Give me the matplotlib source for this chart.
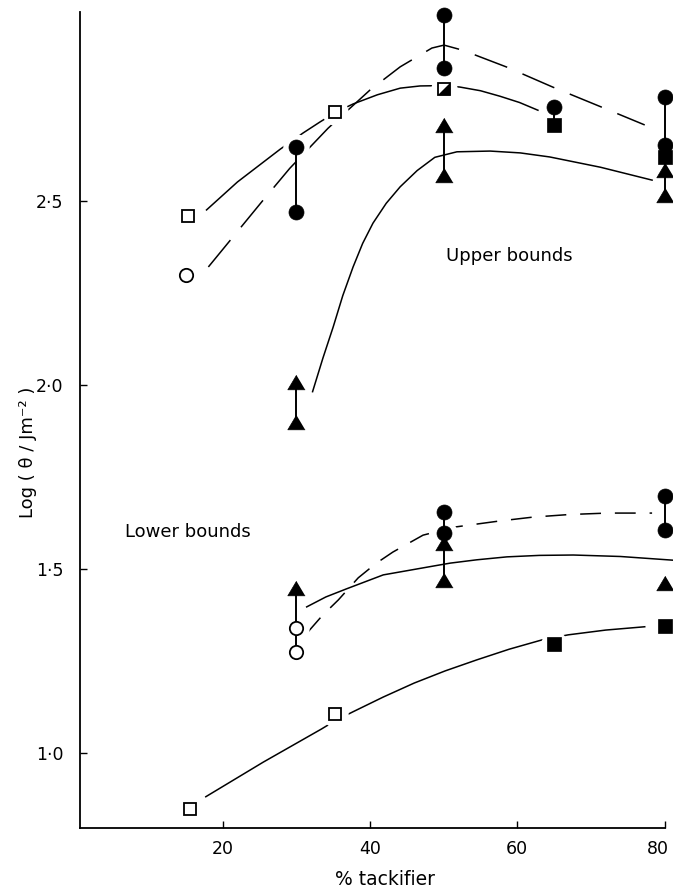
import numpy as np
import matplotlib
matplotlib.use("Agg")
import matplotlib.pyplot as plt
from matplotlib.transforms import ScaledTranslation

plt.rcParams['font.family'] = ['DejaVu Sans']
plt.rcParams['lines.scale_dashes'] = False

# ---- measured points: upper bounds ----
up_open_sq_x = [15.3, 35.3]
up_open_sq_y = [2.459, 2.743]
up_open_circ_x = [15.0]
up_open_circ_y = [2.299]
up_circ_x = [30, 30, 50, 50, 65, 80, 80]
up_circ_y = [2.647, 2.470, 3.007, 2.861, 2.755, 2.782, 2.652]
up_half_sq_x = [50]
up_half_sq_y = [2.804]
up_sq_x = [65, 80]
up_sq_y = [2.707, 2.620]
up_tri_x = [30, 30, 50, 50, 80, 80]
up_tri_y = [2.007, 1.899, 2.707, 2.571, 2.584, 2.516]

# ---- measured points: lower bounds ----
low_tri_x = [30, 50, 50, 80]
low_tri_y = [1.448, 1.571, 1.470, 1.462]
low_open_circ_x = [30, 30]
low_open_circ_y = [1.340, 1.275]
low_circ_x = [50, 50, 80, 80]
low_circ_y = [1.656, 1.597, 1.698, 1.606]
low_sq_x = [65, 80]
low_sq_y = [1.295, 1.346]
low_open_sq_x = [15.6, 35.3]
low_open_sq_y = [0.848, 1.106]

# ---- vertical bars joining replicate measurements ----
bar_x = [30, 30, 50, 50, 65, 80, 30, 50, 80]
bar_lo = [2.470, 1.899, 2.861, 2.571, 2.707, 2.516, 1.275, 1.470, 1.606]
bar_hi = [2.647, 2.007, 3.007, 2.707, 2.755, 2.782, 1.448, 1.656, 1.698]

# ---- hand-drawn trend curves ----
up_dash_x = [18.05, 25.3, 29.1, 34.3, 40.0, 44.1, 48.4, 50.05, 52.6, 58.6, 64.8, 71.5, 77.3]
up_dash_y = [2.321, 2.498, 2.589, 2.698, 2.802, 2.865, 2.916, 2.924, 2.910, 2.864, 2.810, 2.755, 2.707]
up_sq_curve_x = [17.8, 22.0, 27.8, 30.9, 33.2, 35.3, 37.7, 41.0, 44.1, 46.8, 50.0, 52.2, 55.0, 57.65, 60.3, 62.8]
up_sq_curve_y = [2.476, 2.552, 2.641, 2.685, 2.715, 2.741, 2.764, 2.789, 2.807, 2.813, 2.814, 2.810, 2.800, 2.785, 2.768, 2.747]
up_tri_curve_x = [32.2, 33.6, 35.0, 36.3, 37.7, 39.0, 40.4, 42.2, 44.1, 46.4, 48.8, 51.8, 56.3, 60.4, 64.4, 71.3, 78.3]
up_tri_curve_y = [1.982, 2.073, 2.158, 2.243, 2.321, 2.385, 2.440, 2.494, 2.539, 2.583, 2.619, 2.634, 2.636, 2.631, 2.620, 2.592, 2.557]
low_dash_x = [31.4, 33.5, 35.7, 38.4, 40.8, 43.1, 47.2, 51.5, 57.4, 62.1, 67.0, 72.2, 78.3]
low_dash_y = [1.325, 1.373, 1.416, 1.476, 1.515, 1.546, 1.592, 1.614, 1.630, 1.641, 1.648, 1.652, 1.652]
low_tri_curve_x = [31.4, 34.0, 36.8, 41.8, 48.6, 50.9, 54.5, 58.6, 63.0, 67.6, 74.0, 81.1]
low_tri_curve_y = [1.397, 1.424, 1.446, 1.484, 1.508, 1.516, 1.525, 1.533, 1.537, 1.538, 1.534, 1.524]
low_sq_curve_x = [17.7, 25.5, 33.4, 35.3, 37.7, 41.8, 46.0, 50.2, 54.5, 58.9, 63.3, 66.9, 72.0, 77.3]
low_sq_curve_y = [0.881, 0.975, 1.065, 1.088, 1.112, 1.152, 1.190, 1.223, 1.253, 1.282, 1.307, 1.321, 1.334, 1.343]

x_ticks = [20, 40, 60, 80]
y_ticks = [1.0, 1.5, 2.0, 2.5]

fig = plt.figure(figsize=(6.73, 8.92), dpi=100)
ax = fig.add_axes([80 / 673, 64 / 892, 593 / 673, 816 / 892])
ax.set_xlim(0.62, 81.14)
ax.set_ylim(0.796, 3.014)

ink = 'black'
lw_curve = 1.1

# trend curves
ax.plot(up_dash_x, up_dash_y, color=ink, lw=lw_curve, ls=(0, (25, 12)), zorder=2)
ax.plot(up_sq_curve_x, up_sq_curve_y, color=ink, lw=lw_curve, zorder=2)
ax.plot(up_tri_curve_x, up_tri_curve_y, color=ink, lw=lw_curve, zorder=2)
ax.plot(low_dash_x, low_dash_y, color=ink, lw=lw_curve, ls=(0, (15, 10)), zorder=2)
ax.plot(low_tri_curve_x, low_tri_curve_y, color=ink, lw=lw_curve, zorder=2)
ax.plot(low_sq_curve_x, low_sq_curve_y, color=ink, lw=lw_curve, zorder=2)

# white clearance around every symbol so curves stop short of it
all_x = (up_open_sq_x + up_open_circ_x + up_circ_x + up_half_sq_x + up_sq_x + up_tri_x
         + low_tri_x + low_open_circ_x + low_circ_x + low_sq_x + low_open_sq_x)
all_y = (up_open_sq_y + up_open_circ_y + up_circ_y + up_half_sq_y + up_sq_y + up_tri_y
         + low_tri_y + low_open_circ_y + low_circ_y + low_sq_y + low_open_sq_y)
ax.plot(all_x, all_y, ls='none', marker='o', ms=19, mfc='white', mec='none', zorder=3)

# replicate bars
ax.vlines(bar_x, bar_lo, bar_hi, color=ink, lw=1.4, zorder=4)

# symbols
tri = [(0, 0.42), (-0.5, -0.42), (0.5, -0.42)]
lower_right = [(0.5, 0.5), (0.5, -0.5), (-0.5, -0.5)]
kw = dict(ls='none', zorder=5, clip_on=False)
for xs, ys in [(up_circ_x, up_circ_y), (low_circ_x, low_circ_y)]:
    ax.plot(xs, ys, marker='o', ms=10.8, mfc=ink, mec=ink, mew=0.5, **kw)
for xs, ys in [(up_open_circ_x, up_open_circ_y), (low_open_circ_x, low_open_circ_y)]:
    ax.plot(xs, ys, marker='o', ms=9.6, mfc='white', mec=ink, mew=1.3, **kw)
for xs, ys in [(up_sq_x, up_sq_y), (low_sq_x, low_sq_y)]:
    ax.plot(xs, ys, marker='s', ms=10.4, mfc=ink, mec=ink, mew=0.5, **kw)
for xs, ys in [(up_open_sq_x, up_open_sq_y), (low_open_sq_x, low_open_sq_y)]:
    ax.plot(xs, ys, marker='s', ms=9.2, mfc='white', mec=ink, mew=1.3, **kw)
for xs, ys in [(up_tri_x, up_tri_y), (low_tri_x, low_tri_y)]:
    ax.plot(xs, ys, marker=tri, ms=12.5, mfc=ink, mec=ink, mew=0.5, **kw)
ax.plot(up_half_sq_x, up_half_sq_y, marker='s', ms=9.2, mfc='white', mec=ink, mew=1.3, **kw)
ax.plot(up_half_sq_x, up_half_sq_y, marker=lower_right, ms=9.2, mfc=ink, mec=ink, mew=0.3, **kw)

# annotations
ax.text(50.3, 2.337, "Upper bounds", fontsize=13, ha='left', va='baseline')
ax.text(6.7, 1.587, "Lower bounds", fontsize=13, ha='left', va='baseline')

# axes styling
for side in ('top', 'right'):
    ax.spines[side].set_visible(False)
for side in ('left', 'bottom'):
    ax.spines[side].set_linewidth(1.3)
ax.spines['bottom'].set_bounds(0.62, 80)
ax.set_xticks(x_ticks)
ax.set_yticks(y_ticks)
ax.set_xticklabels([str(v) for v in x_ticks])
ax.set_yticklabels([f"{v:.1f}".replace('.', '\u00b7') for v in y_ticks])
ax.tick_params(direction='in', length=5, width=1.0, labelsize=12.5)
ax.tick_params(axis='y', pad=12)
ax.tick_params(axis='x', pad=9)

# keep the last x label inside the canvas
last = ax.get_xticklabels()[-1]
last.set_transform(last.get_transform() + ScaledTranslation(-5 / 72, 0, fig.dpi_scale_trans))

ax.set_xlabel("% tackifier", fontsize=13.5)
ax.xaxis.set_label_coords(0.514, -0.052)
ax.xaxis.label.set_va('top')
ax.set_ylabel("Log ( \u03b8 / Jm\u207b\u00b2 )", fontsize=13)
ax.yaxis.set_label_coords(-0.072, 0.46)

fig.savefig("out.png", dpi=100)
